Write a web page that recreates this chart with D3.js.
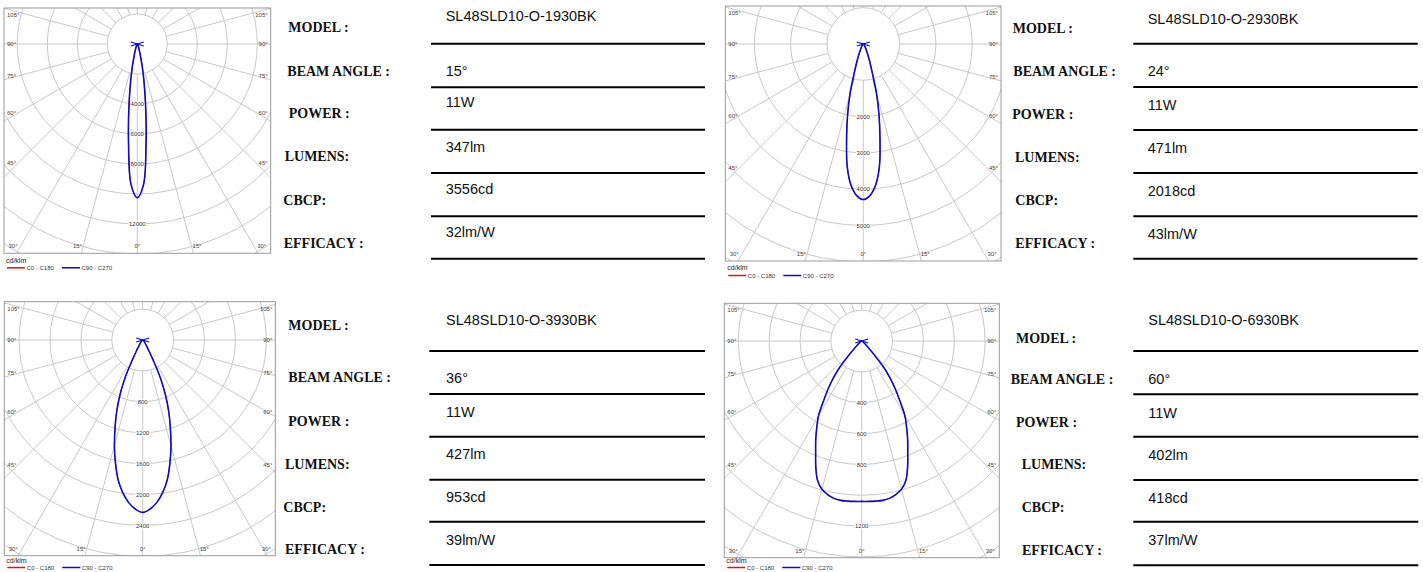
<!DOCTYPE html>
<html>
<head>
<meta charset="utf-8">
<script src="https://cdn.jsdelivr.net/npm/d3@7"></script>
<style>
  body { margin: 0; background: #fff; }
  svg { display: block; }
</style>
</head>
<body>
<svg id="chart" width="1423" height="572"></svg>
<script>
// gamma angles (deg from nadir) and intensity in cd/klm
const gammaDeg = [0, 2.5, 5, 7.5, 10, 12.5, 15, 17.5, 20, 22.5, 25, 27.5, 30, 32.5, 35, 37.5, 40, 42.5, 45, 50, 55, 60, 70, 80, 90];
const cd1930 = [10248, 9400, 6700, 4300, 2600, 1500, 800, 480, 300, 200, 140, 100, 75, 60, 50, 42, 36, 32, 28, 22, 18, 15, 10, 6, 0];
const cd2930 = [4285, 4180, 3900, 3400, 2650, 2000, 1400, 800, 520, 340, 230, 160, 115, 85, 65, 52, 42, 36, 30, 22, 17, 13, 8, 4, 0];
const cd3930 = [2232, 2190, 2110, 1990, 1835, 1630, 1415, 1190, 985, 770, 545, 290, 155, 95, 65, 48, 38, 32, 27, 21, 17, 13, 8, 4, 0];
const cd6930 = [1040, 1041, 1042, 1042, 1036, 1020, 995, 950, 870, 780, 705, 630, 560, 460, 380, 300, 220, 120, 60, 25, 15, 10, 6, 3, 0];
const curves = [cd1930, cd2930, cd3930, cd6930];

// ring step and the ring values that carry a label
const ringSteps = [2000, 1000, 400, 200];
const ringLabels = [[4000, 6000, 8000, 12000], [2000, 3000, 4000, 5000], [800, 1200, 1600, 2000, 2400], [400, 600, 800, 1200]];
const sideTicks = [105, 90, 75, 60, 45];
const bottomTicks = [-30, -15, 0, 15, 30];

// spec table
const specLabels = ['MODEL :', 'BEAM ANGLE :', 'POWER :', 'LUMENS:', 'CBCP:', 'EFFICACY :'];
const models = ['SL48SLD10-O-1930BK', 'SL48SLD10-O-2930BK', 'SL48SLD10-O-3930BK', 'SL48SLD10-O-6930BK'];
const beamAngles = ['15°', '24°', '36°', '60°'];
const powers = ['11W', '11W', '11W', '11W'];
const lumens = ['347lm', '471lm', '427lm', '402lm'];
const cbcps = ['3556cd', '2018cd', '953cd', '418cd'];
const efficacies = ['32lm/W', '43lm/W', '39lm/W', '37lm/W'];
const legendNames = ['C0 - C180', 'C90 - C270'];

// layout of the four panels
const panels = [
  { box: [4, 8, 266.7, 245.3], c: [137.3, 44], px: 30,
    labX: [288.3, 287.3, 288.7, 284.7, 283.3, 283.7], labY: [32.3, 76, 118.3, 161.3, 204.7, 248.3],
    valX: 445.7, valY: [20.7, 76, 106.7, 151.7, 194, 237.3],
    lineX: [431, 705], lineY: [43.7, 87.3, 129.7, 173, 216.3, 258.7] },
  { box: [725.3, 6, 275.7, 255], c: [863.3, 44], px: 36.3,
    labX: [1012.7, 1013.3, 1012.3, 1015, 1015.3, 1015.3], labY: [33.3, 76, 119, 161.7, 205, 248.3],
    valX: 1147.7, valY: [24, 76, 110, 153.3, 196, 239.3],
    lineX: [1133.3, 1417.7], lineY: [43.7, 87, 130, 173, 216.3, 258.7] },
  { box: [4.3, 301.7, 271, 254], c: [142.7, 340], px: 30.9,
    labX: [288.3, 288.3, 288.3, 285, 283.3, 285], labY: [330, 381.7, 426, 469, 511.7, 554.3],
    valX: 446, valY: [325, 382.7, 416.7, 459.3, 502.3, 545],
    lineX: [429.3, 705], lineY: [351, 394, 436.7, 479.7, 521.7, 565] },
  { box: [724.3, 303.3, 275, 254.4], c: [861.7, 341], px: 30.85,
    labX: [1016, 1010.7, 1016, 1021.7, 1021.7, 1022], labY: [343.3, 384.3, 426.7, 469.3, 511.7, 555],
    valX: 1148.3, valY: [325, 384, 418.3, 460, 503.3, 545],
    lineX: [1133.3, 1418.3], lineY: [351, 394.3, 436.7, 480, 521.7, 565.3] }
];

const svg = d3.select('#chart');
const defs = svg.append('defs');
const rad = d => d * Math.PI / 180;
const gridColor = '#c8c8c8';
const blue = '#0c0cc4';
const red = '#e01010';
const sans = 'Liberation Sans, Arial, sans-serif';

panels.forEach((p, i) => {
  const [bx, by, bw, bh] = p.box;
  const [cx, cy] = p.c;
  const step = ringSteps[i];
  const r = d3.scaleLinear().domain([0, step]).range([0, p.px]);
  const g = svg.append('g');

  defs.append('clipPath').attr('id', 'clip' + i)
    .append('rect').attr('x', bx).attr('y', by).attr('width', bw).attr('height', bh);

  const grid = g.append('g').attr('clip-path', `url(#clip${i})`);
  const maxR = d3.max([[bx, by], [bx + bw, by], [bx, by + bh], [bx + bw, by + bh]],
    q => Math.hypot(q[0] - cx, q[1] - cy));
  const ringVals = d3.range(step, r.invert(maxR) + step, step);

  grid.selectAll('circle').data(ringVals).join('circle')
    .attr('cx', cx).attr('cy', cy).attr('r', d => r(d))
    .attr('fill', 'none').attr('stroke', gridColor).attr('stroke-width', 1);

  const spokes = d3.range(-165, 181, 15);
  grid.selectAll('line.spoke').data(spokes).join('line')
    .attr('class', 'spoke')
    .attr('x1', d => cx + r(step) * Math.sin(rad(d)))
    .attr('y1', d => cy + r(step) * Math.cos(rad(d)))
    .attr('x2', d => cx + maxR * Math.sin(rad(d)))
    .attr('y2', d => cy + maxR * Math.cos(rad(d)))
    .attr('stroke', gridColor).attr('stroke-width', 1);

  g.append('rect').attr('x', bx).attr('y', by).attr('width', bw).attr('height', bh)
    .attr('fill', 'none').attr('stroke', '#9a9a9a').attr('stroke-width', 1);

  // ring labels
  g.selectAll('text.ring').data(ringLabels[i]).join('text')
    .attr('class', 'ring')
    .attr('x', cx).attr('y', d => cy + r(d))
    .attr('dy', '0.35em').attr('text-anchor', 'middle')
    .attr('font-family', sans).attr('font-size', 6)
    .attr('fill', '#333')
    .attr('stroke', '#fff').attr('stroke-width', 2).attr('paint-order', 'stroke')
    .text(d => d);

  // angle labels on the sides
  const d = (cx - bx) - 14;
  const sideY = t => Math.max(cy + d * Math.tan(rad(90 - t)), by + 7);
  g.selectAll('text.sideL').data(sideTicks).join('text')
    .attr('class', 'sideL')
    .attr('x', bx + 3).attr('y', sideY).attr('dy', '0.35em')
    .attr('font-family', sans).attr('font-size', 6).attr('fill', '#444')
    .text(t => t + '°');
  g.selectAll('text.sideR').data(sideTicks).join('text')
    .attr('class', 'sideR')
    .attr('x', bx + bw - 3).attr('y', sideY).attr('dy', '0.35em').attr('text-anchor', 'end')
    .attr('font-family', sans).attr('font-size', 6).attr('fill', '#444')
    .text(t => t + '°');

  const D = (by + bh - cy) + 14;
  g.selectAll('text.bot').data(bottomTicks).join('text')
    .attr('class', 'bot')
    .attr('x', t => Math.min(Math.max(cx + D * Math.tan(rad(t)), bx + 9), bx + bw - 9))
    .attr('y', by + bh - 7).attr('dy', '0.35em').attr('text-anchor', 'middle')
    .attr('font-family', sans).attr('font-size', 6).attr('fill', '#444')
    .text(t => Math.abs(t) + '°');

  // light distribution curve, mirrored about nadir
  const vals = curves[i];
  const pts = gammaDeg.map((a, k) => ({ a: a, v: vals[k] }))
    .concat(gammaDeg.slice(1, -1).reverse().map(a => ({ a: -a, v: vals[gammaDeg.indexOf(a)] })));
  const line = d3.lineRadial()
    .angle(q => Math.PI - rad(q.a))
    .radius(q => r(q.v))
    .curve(d3.curveCatmullRomClosed.alpha(0.5));

  const cg = g.append('g').attr('clip-path', `url(#clip${i})`)
    .append('g').attr('transform', `translate(${cx},${cy})`);
  // C0-C180 (red) lies under C90-C270 (blue)
  [[red, 0.8], [blue, 1.6]].forEach(([col, w]) => {
    cg.append('path').attr('d', line(pts))
      .attr('fill', 'none').attr('stroke', col).attr('stroke-width', w);
  });
  // luminaire marker at the centre
  cg.selectAll('line.mark').data([[-1, -1], [-1, 1]]).join('line')
    .attr('class', 'mark')
    .attr('x1', q => q[0] * 6.5).attr('y1', q => q[1] * 2)
    .attr('x2', q => -q[0] * 6.5).attr('y2', q => -q[1] * 2)
    .attr('stroke', blue).attr('stroke-width', 1.2);

  // legend (kept inside the page at the bottom edge)
  const ly = Math.min(by + bh + 7, 561);
  g.append('text').attr('x', bx + 2).attr('y', ly).attr('dy', '0.35em')
    .attr('font-family', sans).attr('font-size', 7).attr('fill', '#222')
    .text('cd/klm');
  const lg = g.selectAll('g.leg').data(legendNames).join('g').attr('class', 'leg')
    .attr('transform', (n, k) => `translate(${bx + 3 + k * 55},${Math.min(ly + 7.5, 567.5)})`);
  lg.append('line').attr('x1', 0).attr('x2', 18).attr('y1', 0).attr('y2', 0)
    .attr('stroke', (n, k) => k ? blue : red).attr('stroke-width', 1.5);
  lg.append('text').attr('x', 19.5).attr('y', 0).attr('dy', '0.35em')
    .attr('font-family', sans).attr('font-size', 6).attr('fill', '#333')
    .text(n => n);

  // spec table
  const values = [models[i], beamAngles[i], powers[i], lumens[i], cbcps[i], efficacies[i]];
  const t = svg.append('g');
  t.selectAll('text.lab').data(specLabels).join('text')
    .attr('class', 'lab')
    .attr('x', (s, k) => p.labX[k]).attr('y', (s, k) => p.labY[k])
    .attr('font-family', 'Liberation Serif, Times New Roman, serif').attr('font-weight', 'bold')
    .attr('font-size', 14).attr('fill', '#111')
    .text(s => s);
  t.selectAll('text.val').data(values).join('text')
    .attr('class', 'val')
    .attr('x', p.valX).attr('y', (s, k) => p.valY[k])
    .attr('font-family', sans)
    .attr('font-size', 14.5).attr('fill', '#111')
    .text(s => s);
  t.selectAll('line.rule').data(p.lineY).join('line')
    .attr('class', 'rule')
    .attr('x1', p.lineX[0]).attr('x2', p.lineX[1])
    .attr('y1', y => y).attr('y2', y => y)
    .attr('stroke', '#000').attr('stroke-width', 2);
});
</script>
</body>
</html>
